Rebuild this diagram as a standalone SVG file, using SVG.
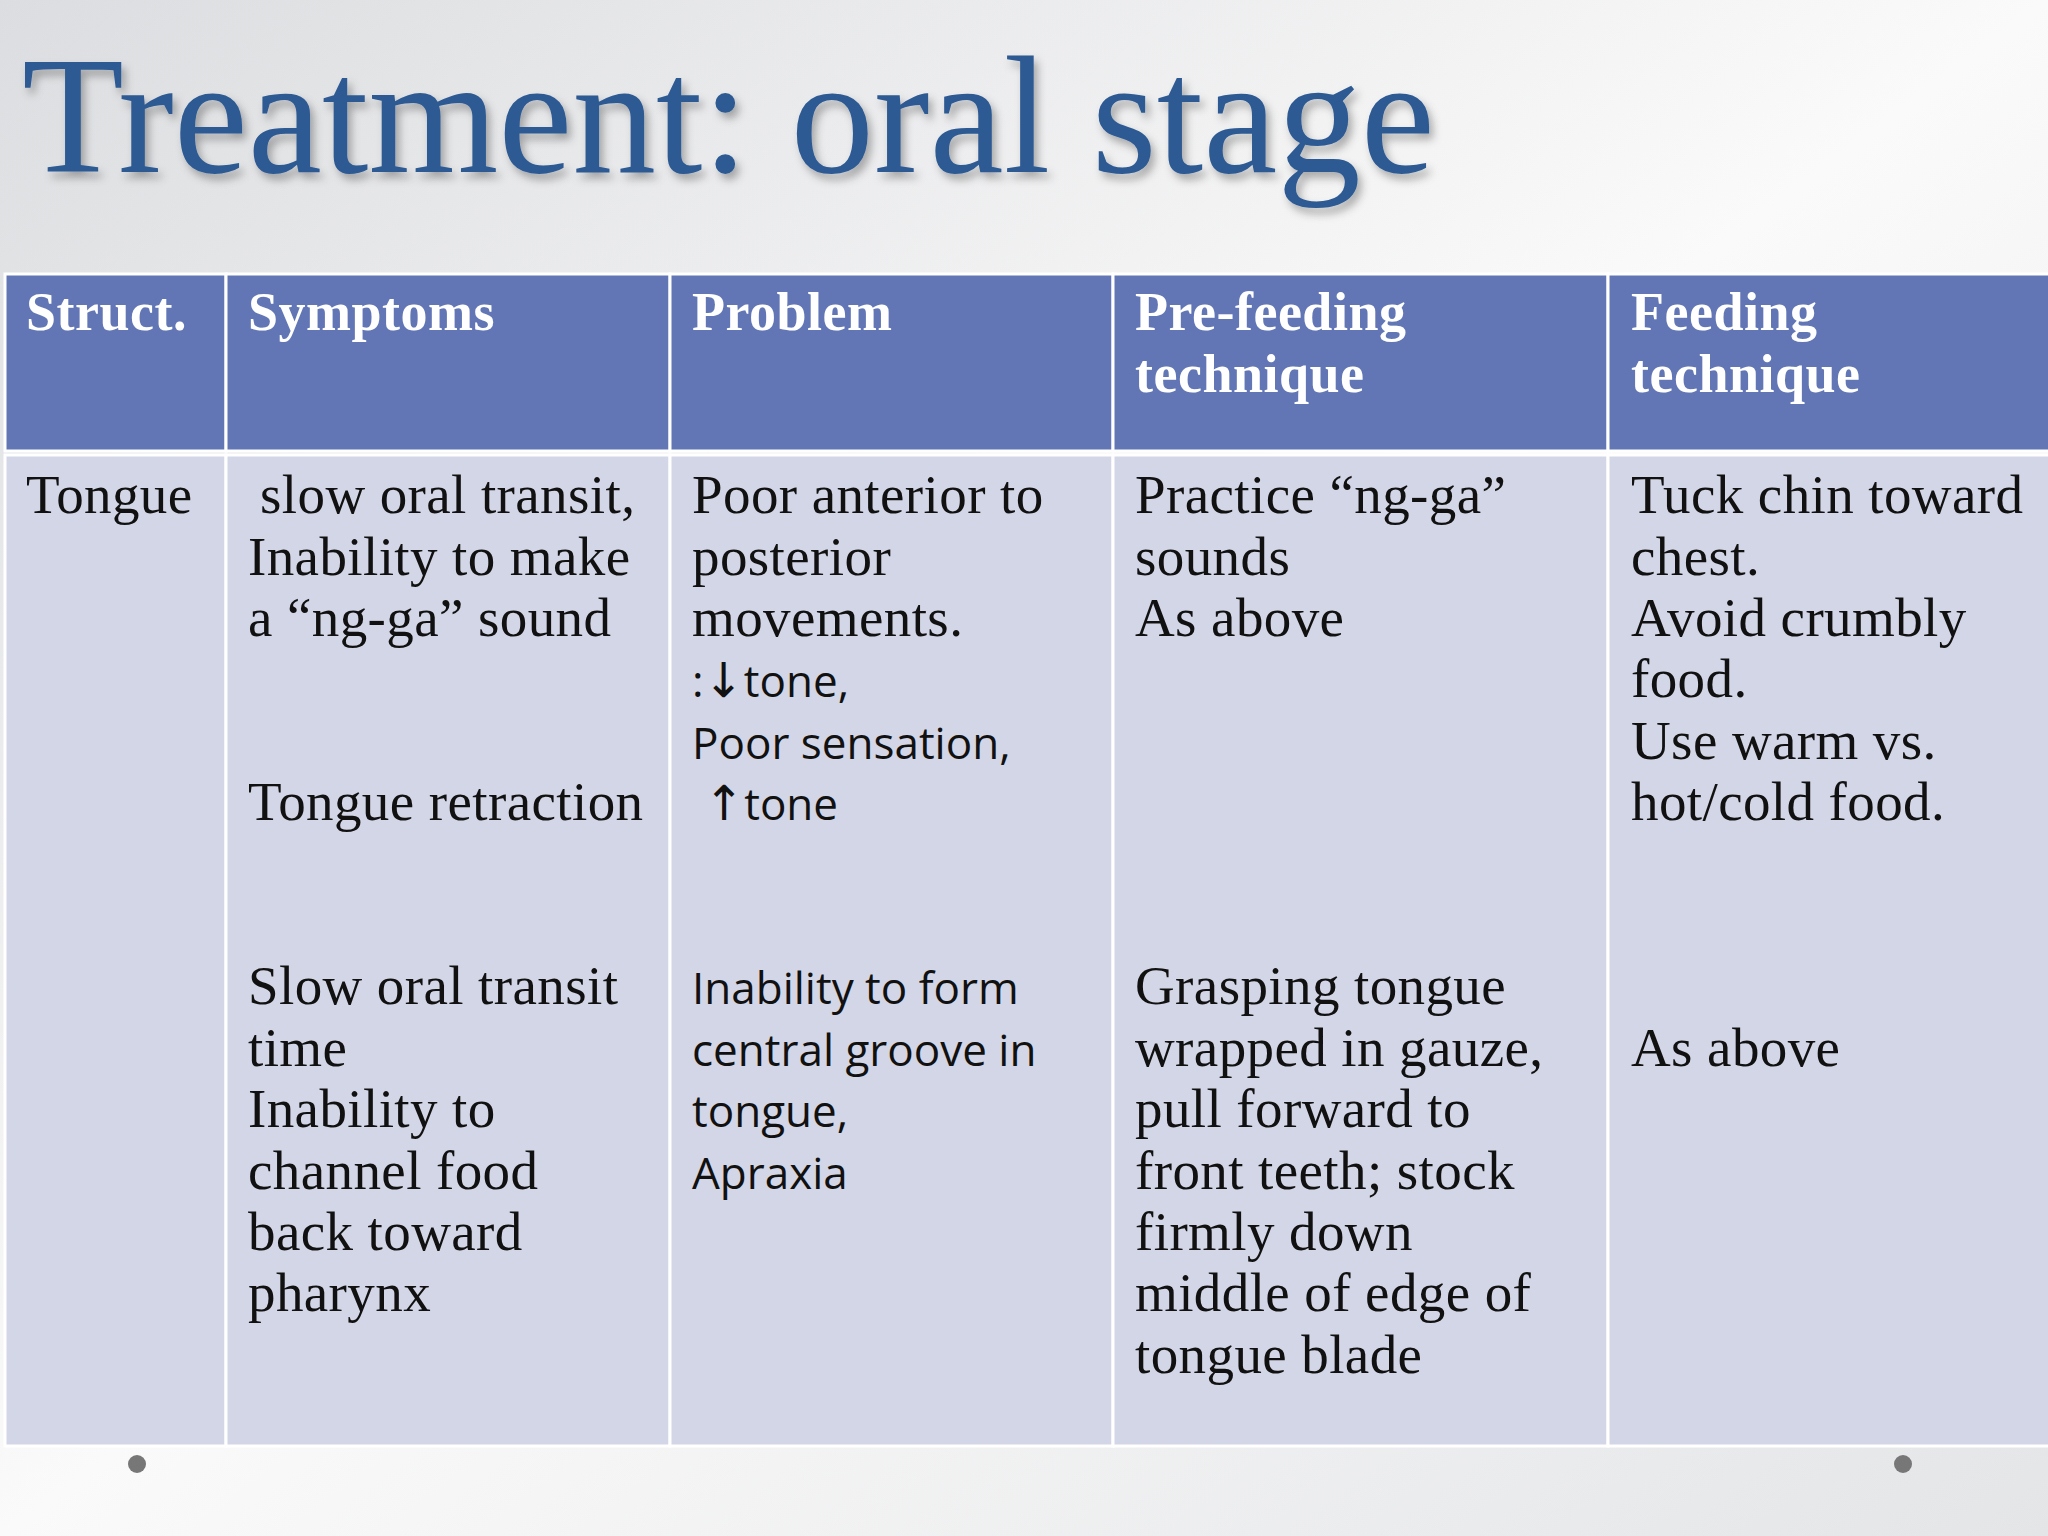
<svg xmlns="http://www.w3.org/2000/svg" width="2048" height="1536" viewBox="0 0 2048 1536">
<defs>
<linearGradient id="bg" x1="0" y1="0" x2="1" y2="1"><stop offset="0" stop-color="#dcdde0"/><stop offset="0.5" stop-color="#fafafa"/><stop offset="1" stop-color="#e4e5e7"/></linearGradient>
<filter id="sh"><feDropShadow dx="4" dy="6" stdDeviation="4" flood-color="#000" flood-opacity="0.3"/></filter>
</defs>
<style>
.h{font-family:"Liberation Serif",serif;font-weight:bold;font-size:54px;letter-spacing:0.5px;fill:#fff}
.s{font-family:"Liberation Serif",serif;font-size:55px;letter-spacing:0.4px;fill:#111}
.c{font-family:"Open Sans","Liberation Sans",sans-serif;font-size:44px;fill:#111}
.a{font-family:"DejaVu Sans",sans-serif;font-size:48px}
.hd{fill:#6276b5}.bd{fill:#d3d6e6}
</style>
<rect width="2048" height="1536" fill="url(#bg)"/>
<text x="22" y="172" font-family="Liberation Serif,serif" font-size="167" fill="#2e5a93" filter="url(#sh)">Treatment: oral stage</text>
<g id="table" stroke="#fff" stroke-width="3">
<rect class="hd" x="5" y="274" width="221" height="177"/><rect class="hd" x="226" y="274" width="444" height="177"/><rect class="hd" x="670" y="274" width="443" height="177"/><rect class="hd" x="1113" y="274" width="495" height="177"/><rect class="hd" x="1608" y="274" width="442" height="177"/>
<rect class="bd" x="5" y="455" width="221" height="991"/><rect class="bd" x="226" y="455" width="444" height="991"/><rect class="bd" x="670" y="455" width="443" height="991"/><rect class="bd" x="1113" y="455" width="495" height="991"/><rect class="bd" x="1608" y="455" width="442" height="991"/>
</g>
<g id="header">
<text class="h" x="26" y="330">Struct.</text>
<text class="h" x="248" y="330">Symptoms</text>
<text class="h" x="692" y="330">Problem</text>
<text class="h" x="1135" y="330">Pre-feeding<tspan x="1135" y="392">technique</tspan></text>
<text class="h" x="1631" y="330">Feeding<tspan x="1631" y="392">technique</tspan></text>
</g>
<g id="body">
<text class="s" x="26" y="513">Tongue</text>
<text class="s" x="260" y="513">slow oral transit,<tspan x="248" y="575">Inability to make</tspan><tspan x="248" y="636">a “ng-ga” sound</tspan><tspan x="248" y="820">Tongue retraction</tspan></text>
<text class="s" x="248" y="1004">Slow oral transit<tspan x="248" y="1066">time</tspan><tspan x="248" y="1127">Inability to</tspan><tspan x="248" y="1189">channel food</tspan><tspan x="248" y="1250">back toward</tspan><tspan x="248" y="1311">pharynx</tspan></text>
<text class="s" x="692" y="513">Poor anterior to<tspan x="692" y="575">posterior</tspan><tspan x="692" y="636">movements.</tspan></text>
<text class="c" x="692" y="697">:<tspan class="a">↓</tspan>tone,<tspan x="692" y="759">Poor sensation,</tspan><tspan x="704" y="820" class="a">↑</tspan>tone</text>
<text class="c" x="692" y="1004">Inability to form<tspan x="692" y="1066">central groove in</tspan><tspan x="692" y="1127">tongue,</tspan><tspan x="692" y="1189">Apraxia</tspan></text>
<text class="s" x="1135" y="513">Practice “ng-ga”<tspan x="1135" y="575">sounds</tspan><tspan x="1135" y="636">As above</tspan></text>
<text class="s" x="1135" y="1004">Grasping tongue<tspan x="1135" y="1066">wrapped in gauze,</tspan><tspan x="1135" y="1127">pull forward to</tspan><tspan x="1135" y="1189">front teeth; stock</tspan><tspan x="1135" y="1250">firmly down</tspan><tspan x="1135" y="1311">middle of edge of</tspan><tspan x="1135" y="1373">tongue blade</tspan></text>
<text class="s" x="1631" y="513">Tuck chin toward<tspan x="1631" y="575">chest.</tspan><tspan x="1631" y="636">Avoid crumbly</tspan><tspan x="1631" y="697">food.</tspan><tspan x="1631" y="759">Use warm vs.</tspan><tspan x="1631" y="820">hot/cold food.</tspan></text>
<text class="s" x="1631" y="1066">As above</text>
</g>
<circle cx="137" cy="1464" r="9" fill="#777"/><circle cx="1903" cy="1464" r="9" fill="#777"/>
</svg>
